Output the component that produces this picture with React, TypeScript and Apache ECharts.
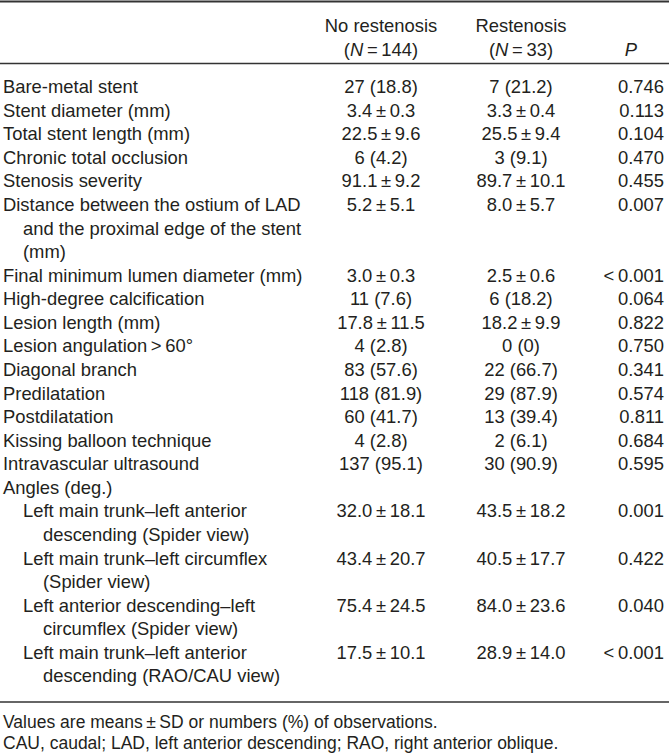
import React, { useEffect, useRef } from "react";
import * as echarts from "echarts";

const TS = "\u2009";
const pm = (a: string, b: string) => `${a}${TS}±${TS}${b}`;

const labels: string[][] = [
  ["Bare-metal stent"],
  ["Stent diameter (mm)"],
  ["Total stent length (mm)"],
  ["Chronic total occlusion"],
  ["Stenosis severity"],
  ["Distance between the ostium of LAD", "and the proximal edge of the stent", "(mm)"],
  ["Final minimum lumen diameter (mm)"],
  ["High-degree calcification"],
  ["Lesion length (mm)"],
  [`Lesion angulation${TS}>${TS}60°`],
  ["Diagonal branch"],
  ["Predilatation"],
  ["Postdilatation"],
  ["Kissing balloon technique"],
  ["Intravascular ultrasound"],
  ["Angles (deg.)"],
  ["Left main trunk–left anterior", "descending (Spider view)"],
  ["Left main trunk–left circumflex", "(Spider view)"],
  ["Left anterior descending–left", "circumflex (Spider view)"],
  ["Left main trunk–left anterior", "descending (RAO/CAU view)"],
];

const indentLevels = [0, 0, 0, 0, 0, 0, 0, 0, 0, 0, 0, 0, 0, 0, 0, 0, 1, 1, 1, 1];

const noRestenosis = [
  "27 (18.8)", pm("3.4", "0.3"), pm("22.5", "9.6"), "6 (4.2)", pm("91.1", "9.2"),
  pm("5.2", "5.1"), pm("3.0", "0.3"), "11 (7.6)", pm("17.8", "11.5"), "4 (2.8)",
  "83 (57.6)", "118 (81.9)", "60 (41.7)", "4 (2.8)", "137 (95.1)", "",
  pm("32.0", "18.1"), pm("43.4", "20.7"), pm("75.4", "24.5"), pm("17.5", "10.1"),
];

const restenosis = [
  "7 (21.2)", pm("3.3", "0.4"), pm("25.5", "9.4"), "3 (9.1)", pm("89.7", "10.1"),
  pm("8.0", "5.7"), pm("2.5", "0.6"), "6 (18.2)", pm("18.2", "9.9"), "0 (0)",
  "22 (66.7)", "29 (87.9)", "13 (39.4)", "2 (6.1)", "30 (90.9)", "",
  pm("43.5", "18.2"), pm("40.5", "17.7"), pm("84.0", "23.6"), pm("28.9", "14.0"),
];

const pValues = [
  "0.746", "0.113", "0.104", "0.470", "0.455", "0.007", `<${TS}0.001`, "0.064",
  "0.822", "0.750", "0.341", "0.574", "0.811", "0.684", "0.595", "",
  "0.001", "0.422", "0.040", `<${TS}0.001`,
];

const headerTop = ["No restenosis", "Restenosis", ""];
const headerBottom = [`({i|N}${TS}=${TS}144)`, `({i|N}${TS}=${TS}33)`, "{i|P}"];

const footnotes = [
  `Values are means${TS}±${TS}SD or numbers (%) of observations.`,
  "CAU, caudal; LAD, left anterior descending; RAO, right anterior oblique.",
];

const FONT = "'Liberation Sans', Arial, Helvetica, sans-serif";
const FS = 18.4;
const FS_NOTE = 17.5;
const COLOR = "#231f20";

export default function App() {
  const ref = useRef<HTMLDivElement>(null);
  useEffect(() => {
    document.body.style.margin = "0";
    const chart = echarts.init(ref.current!, null, { renderer: "svg" });
    const elements: any[] = [];
    const text = (t: string, x: number, y: number, align: string, fs: number = FS) => ({
      type: "text",
      x,
      y,
      style: {
        text: t,
        fill: COLOR,
        fontSize: fs,
        fontFamily: FONT,
        textAlign: align,
        textVerticalAlign: "middle",
        rich: { i: { fontStyle: "italic", fontSize: fs, fontFamily: FONT, fill: COLOR } },
      },
    });
    const hline = (y: number, w: number) => ({
      type: "line",
      shape: { x1: 0, y1: y, x2: 669, y2: y },
      style: { stroke: "#333333", lineWidth: w },
    });
    elements.push(hline(1.5, 2.2));
    elements.push(hline(63.5, 1.5));
    elements.push(hline(702, 1.5));

    const colX = [381, 521, 664];
    const colAlign = ["center", "center", "right"];
    headerTop.forEach((t, i) => t && elements.push(text(t, colX[i], 25.5, colAlign[i])));
    headerBottom.forEach((t, i) =>
      elements.push(i === 2 ? text(t, 631, 49.3, "center") : text(t, colX[i], 49.3, colAlign[i]))
    );

    const y0 = 86.7;
    const pitch = 23.57;
    let line = 0;
    labels.forEach((lines, r) => {
      const lvl = indentLevels[r];
      const y = y0 + pitch * line;
      lines.forEach((l, k) => {
        const x = 3 + lvl * 20 + (k > 0 ? 20 : 0);
        elements.push(text(l, x, y0 + pitch * (line + k), "left"));
      });
      [noRestenosis[r], restenosis[r], pValues[r]].forEach((v, c) => {
        if (v) elements.push(text(v, colX[c], y, colAlign[c]));
      });
      line += lines.length;
    });

    footnotes.forEach((f, i) => elements.push(text(f, 3, 722.3 + 21 * i, "left", FS_NOTE)));

    chart.setOption({ animation: false, graphic: { elements } });
    return () => chart.dispose();
  }, []);
  return <div ref={ref} style={{ width: 669, height: 756, background: "#fff" }} />;
}
